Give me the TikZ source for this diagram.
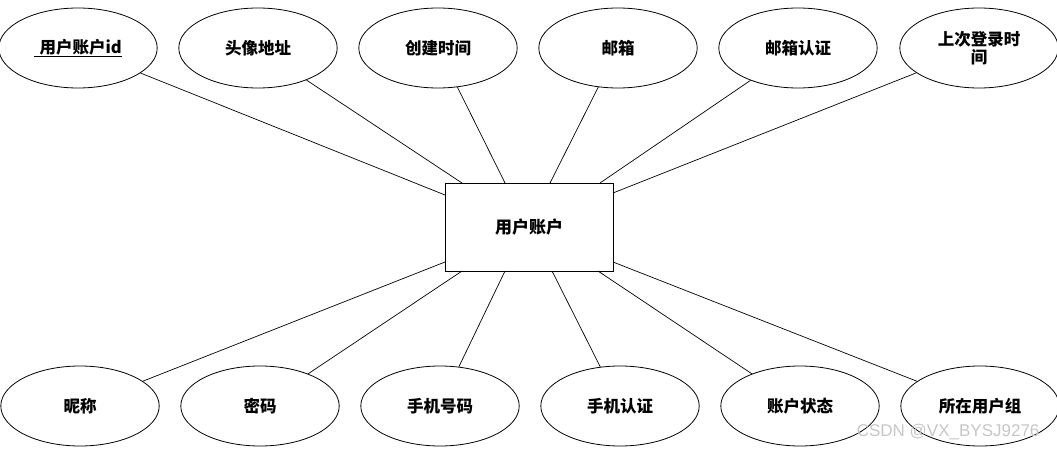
\documentclass[tikz,border=0pt]{standalone}
\usepackage{fontspec}
\setmainfont{Noto Sans CJK SC}
\newfontfamily\wm{Liberation Sans}
\usetikzlibrary{shapes.geometric}
\begin{document}
\begin{tikzpicture}[x=1pt,y=-1pt,
  attr/.style={ellipse,draw,line width=0.8pt,minimum width=146pt,minimum height=80pt,inner sep=0pt,font=\bfseries\fontsize{16.5}{18}\selectfont,align=center,text width=112pt},
  ent/.style={rectangle,draw,line width=0.8pt,minimum width=168pt,minimum height=88pt,font=\bfseries\fontsize{17}{19}\selectfont},
  ln/.style={line width=0.7pt}]
\useasboundingbox (0,0) rectangle (1057,454);
\node[ent] (r) at (529,227) {用户账户};
\node[attr] (a1) at (78,48) {\underline{\ 用户账户id}};
\node[attr] (a2) at (258,48) {头像地址};
\node[attr] (a3) at (438,48) {创建时间};
\node[attr] (a4) at (618,48) {邮箱};
\node[attr] (a5) at (798,48) {邮箱认证};
\node[attr] (a6) at (979,48) {上次登录时\\间};
\node[attr] (b1) at (80,406) {昵称};
\node[attr] (b2) at (260,406) {密码};
\node[attr] (b3) at (440,406) {手机号码};
\node[attr] (b4) at (620,406) {手机认证};
\node[attr] (b5) at (800,406) {账户状态};
\node[attr] (b6) at (980,406) {所在用户组};
\coordinate (t1) at (445,195); \coordinate (t2) at (462,183); \coordinate (t3) at (505,183);
\coordinate (t4) at (550,183); \coordinate (t5) at (600,183); \coordinate (t6) at (613,193);
\coordinate (s1) at (445,262); \coordinate (s2) at (462,271); \coordinate (s3) at (505,271);
\coordinate (s4) at (552,271); \coordinate (s5) at (598,271); \coordinate (s6) at (613,262);
\foreach \i in {1,...,6}{\draw[ln] (a\i) -- (t\i); \draw[ln] (b\i) -- (s\i);}
\node[text=gray!45,font=\wm\fontsize{17}{18}\selectfont,anchor=east] (w) at (1043,432) {CSDN @VX\_BYSJ9276};
\end{tikzpicture}
\end{document}
